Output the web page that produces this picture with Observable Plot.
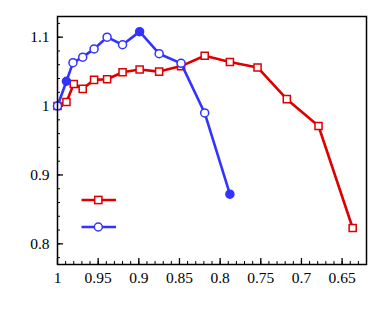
<!DOCTYPE html>
<html>
<head>
<meta charset="utf-8">
<script src="https://cdn.jsdelivr.net/npm/d3@7"></script>
<script src="https://cdn.jsdelivr.net/npm/@observablehq/plot@0.6"></script>
<style>
  html, body { margin: 0; padding: 0; background: #fff; font-family: "Liberation Serif", serif; }
  #wrap { position: relative; width: 374px; height: 312px; }
  #legend { position: absolute; left: 0; top: 0; }
  #wrap svg text { font-family: "Liberation Serif", serif !important; font-size: 15.5px !important; }
</style>
</head>
<body>
<div id="wrap"></div>
<script>
// Series A (red, squares)
const redX = [1, 0.989, 0.980, 0.969, 0.955, 0.939, 0.920, 0.899, 0.875, 0.848, 0.819, 0.788, 0.754, 0.718, 0.679, 0.637];
const redY = [1.000, 1.006, 1.032, 1.025, 1.038, 1.039, 1.049, 1.053, 1.050, 1.058, 1.073, 1.064, 1.056, 1.010, 0.971, 0.823];
// Series B (blue, circles); filled markers flagged
const blueX = [1, 0.989, 0.981, 0.969, 0.955, 0.939, 0.920, 0.899, 0.875, 0.848, 0.819, 0.788];
const blueY = [1.000, 1.036, 1.063, 1.071, 1.083, 1.100, 1.089, 1.108, 1.076, 1.062, 0.990, 0.872];
const blueFilled = [false, true, false, false, false, false, false, true, false, false, false, true];

const xTicks = [1, 0.95, 0.9, 0.85, 0.8, 0.75, 0.7, 0.65];
const xMinor = d3.range(100, 61, -1).map(v => v / 100);
const yTicks = [0.8, 0.9, 1, 1.1];
const yMinor = d3.range(78, 114, 2).map(v => v / 100);

const RED = "#dd0000";
const BLUE = "#3333ff";
const FONT = "Liberation Serif";
const FS = 15.5;

const red = redX.map((x, i) => ({x, y: redY[i]}));
const blue = blueX.map((x, i) => ({x, y: blueY[i], filled: blueFilled[i]}));

const W = 374, H = 312;
const mL = 57, mR = 8, mT = 16, mB = 48;
const pw = W - mL - mR, ph = H - mT - mB;
const fmt = d => String(d);

const chart = Plot.plot({
  width: W,
  height: H,
  marginLeft: mL,
  marginRight: mR,
  marginTop: mT,
  marginBottom: mB,
  x: {domain: [1, 0.62], label: null, axis: null},
  y: {domain: [0.77, 1.13], label: null, axis: null},
  marks: [
    // inward ticks
    Plot.tickX(xMinor, {x: d => d, insetTop: ph - 3, stroke: "#000", strokeWidth: 1}),
    Plot.tickX(xTicks, {x: d => d, insetTop: ph - 6, stroke: "#000", strokeWidth: 1.3}),
    Plot.tickY(yMinor, {y: d => d, insetRight: pw - 3, stroke: "#000", strokeWidth: 1}),
    Plot.tickY(yTicks, {y: d => d, insetRight: pw - 6, stroke: "#000", strokeWidth: 1.3}),
    // tick labels as text marks
    Plot.text(xTicks, {x: d => d, text: fmt, frameAnchor: "bottom", lineAnchor: "top", dy: 7,
      fontFamily: FONT, fontSize: FS, fill: "#000"}),
    Plot.text(yTicks, {y: d => d, text: fmt, frameAnchor: "left", textAnchor: "end", dx: -8,
      fontFamily: FONT, fontSize: FS, fill: "#000"}),
    Plot.line(red, {x: "x", y: "y", stroke: RED, strokeWidth: 2.6}),
    Plot.dot(red, {x: "x", y: "y", symbol: "square", r: 4, stroke: RED, strokeWidth: 1.5, fill: "#fff"}),
    Plot.line(blue, {x: "x", y: "y", stroke: BLUE, strokeWidth: 2.6}),
    Plot.dot(blue, {x: "x", y: "y", symbol: "circle", r: 4, stroke: BLUE, strokeWidth: 1.5, fill: d => d.filled ? BLUE : "#fff"}),
    Plot.frame({stroke: "#000", strokeWidth: 1.5})
  ]
});

chart.querySelectorAll("text").forEach(t => {
  t.style.setProperty("font-family", "'Liberation Serif', serif", "important");
  t.style.setProperty("font-size", FS + "px", "important");
});

const wrap = document.getElementById("wrap");
wrap.appendChild(chart);

// Legend (symbols only, no labels)
const legend = d3.select(wrap).append("svg")
  .attr("id", "legend").attr("width", W).attr("height", H);
const entries = [
  {color: RED, symbol: "square", top: 200},
  {color: BLUE, symbol: "circle", top: 227}
];
entries.forEach(e => {
  const g = legend.append("g").attr("transform", `translate(0,${e.top})`);
  g.append("line").attr("x1", 81.5).attr("x2", 116).attr("y1", 0).attr("y2", 0)
    .attr("stroke", e.color).attr("stroke-width", 2.6);
  if (e.symbol === "square") {
    g.append("rect").attr("x", 98.3 - 3.6).attr("y", -3.6).attr("width", 7.2).attr("height", 7.2)
      .attr("fill", "#fff").attr("stroke", e.color).attr("stroke-width", 1.5);
  } else {
    g.append("circle").attr("cx", 98.3).attr("cy", 0).attr("r", 4)
      .attr("fill", "#fff").attr("stroke", e.color).attr("stroke-width", 1.5);
  }
});
</script>
</body>
</html>
